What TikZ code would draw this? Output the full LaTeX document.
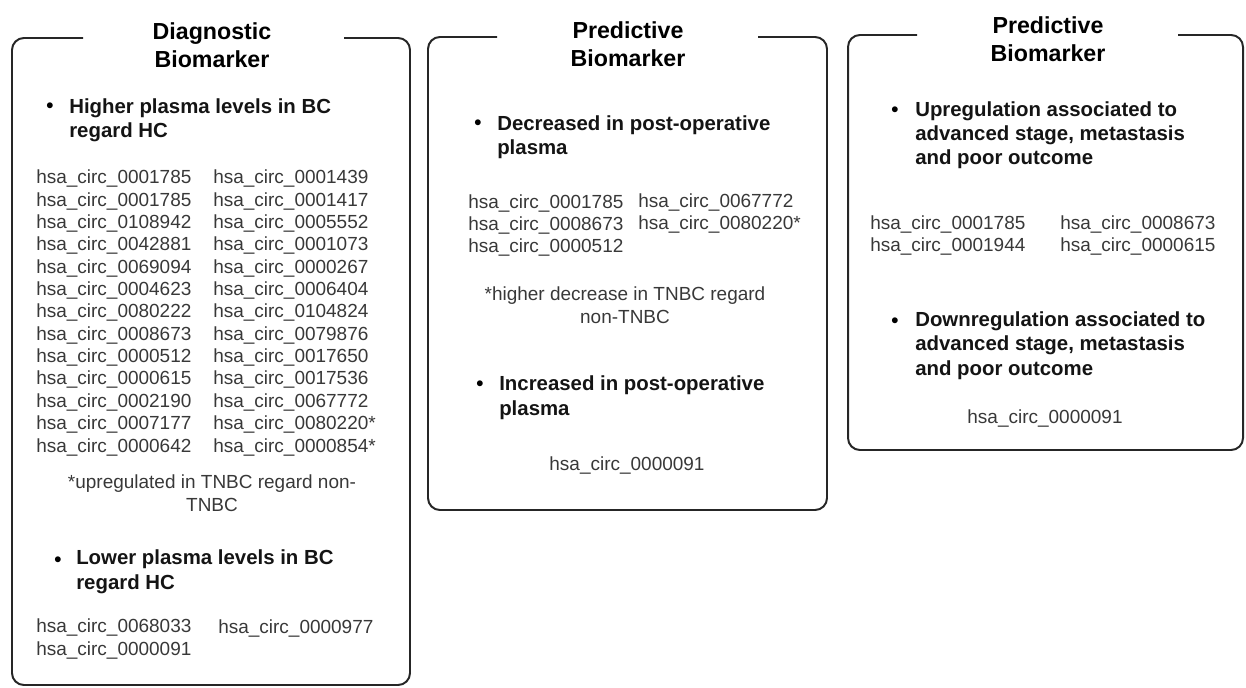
\documentclass[tikz,border=0pt]{standalone}
\usepackage{fontspec}
\setmainfont{Liberation Sans}

\begin{document}
\begin{tikzpicture}[
  x=0.025cm, y=-0.025cm,
  frame/.style={draw=black!85, line width=1.4pt, rounded corners=8.5pt},
  title/.style={font=\fontsize{16.5}{20.6}\selectfont\bfseries, align=center, anchor=base, inner sep=0pt},
  head/.style={font=\fontsize{14.5}{17.4}\selectfont\bfseries, align=left, anchor=base west, inner sep=0pt, text=black!92},
  dot/.style={font=\fontsize{14.5}{17.4}\selectfont\bfseries, anchor=base, inner sep=0pt},
  ids/.style={font=\fontsize{13.5}{15.9}\selectfont, align=left, anchor=base west, inner sep=0pt, text=black!78},
  note/.style={font=\fontsize{13.5}{15.9}\selectfont, align=center, anchor=base, inner sep=0pt, text=black!78},
]
\useasboundingbox (0,0) rectangle (1246,688);

% frames, open at the top for the titles
\draw[frame] (83,38) -- (12,38) -- (12,685) -- (410,685) -- (410,38) -- (344,38);
\draw[frame] (497,37) -- (428,37) -- (428,510) -- (827,510) -- (827,37) -- (758,37);
\draw[frame] (917,35) -- (848,35) -- (848,450) -- (1243,450) -- (1243,35) -- (1178,35);

% multi-line nodes sit on the baseline of their last line
\node[title] (t1) at (212,68) {Diagnostic\\Biomarker};
\node[title] (t2) at (628,67) {Predictive\\Biomarker};
\node[title] (t3) at (1048,62) {Predictive\\Biomarker};

% diagnostic
\node[dot] (b1) at (50,113) {\textbullet};
\node[head] (h1) at (69,138) {Higher plasma levels in BC\\regard HC};
\node[ids] (l1a) at (36,452) {hsa\_circ\_0001785\\hsa\_circ\_0001785\\hsa\_circ\_0108942\\hsa\_circ\_0042881\\hsa\_circ\_0069094\\hsa\_circ\_0004623\\hsa\_circ\_0080222\\hsa\_circ\_0008673\\hsa\_circ\_0000512\\hsa\_circ\_0000615\\hsa\_circ\_0002190\\hsa\_circ\_0007177\\hsa\_circ\_0000642};
\node[ids] (l1b) at (213,452) {hsa\_circ\_0001439\\hsa\_circ\_0001417\\hsa\_circ\_0005552\\hsa\_circ\_0001073\\hsa\_circ\_0000267\\hsa\_circ\_0006404\\hsa\_circ\_0104824\\hsa\_circ\_0079876\\hsa\_circ\_0017650\\hsa\_circ\_0017536\\hsa\_circ\_0067772\\hsa\_circ\_0080220*\\hsa\_circ\_0000854*};
\node[note] (n1) at (212,511) {*upregulated in TNBC regard non-\\TNBC};
\node[dot] (b2) at (58,566) {\textbullet};
\node[head] (h2) at (76,589) {Lower plasma levels in BC\\regard HC};
\node[ids] (l2a) at (36,655) {hsa\_circ\_0068033\\hsa\_circ\_0000091};
\node[ids] (l2b) at (218,633) {hsa\_circ\_0000977};

% predictive, post-operative
\node[dot] (b3) at (478,130) {\textbullet};
\node[head] (h3) at (497,155) {Decreased in post-operative\\plasma};
\node[ids] (l3a) at (468,253) {hsa\_circ\_0001785\\hsa\_circ\_0008673\\hsa\_circ\_0000512};
\node[ids] (l3b) at (638,230) {hsa\_circ\_0067772\\hsa\_circ\_0080220*};
\node[note] (n3) at (625,323) {*higher decrease in TNBC regard\\non-TNBC};
\node[dot] (b4) at (480,390) {\textbullet};
\node[head] (h4) at (499,415) {Increased in post-operative\\plasma};
\node[note] (l4) at (627,470) {hsa\_circ\_0000091};

% predictive, outcome
\node[dot] (b5) at (895,117) {\textbullet};
\node[head] (h5) at (915,165) {Upregulation associated to\\advanced stage, metastasis\\and poor outcome};
\node[ids] (l5a) at (870,252) {hsa\_circ\_0001785\\hsa\_circ\_0001944};
\node[ids] (l5b) at (1060,252) {hsa\_circ\_0008673\\hsa\_circ\_0000615};
\node[dot] (b6) at (895,327) {\textbullet};
\node[head] (h6) at (915,375) {Downregulation associated to\\advanced stage, metastasis\\and poor outcome};
\node[note] (l6) at (1045,423) {hsa\_circ\_0000091};
\end{tikzpicture}
\end{document}
